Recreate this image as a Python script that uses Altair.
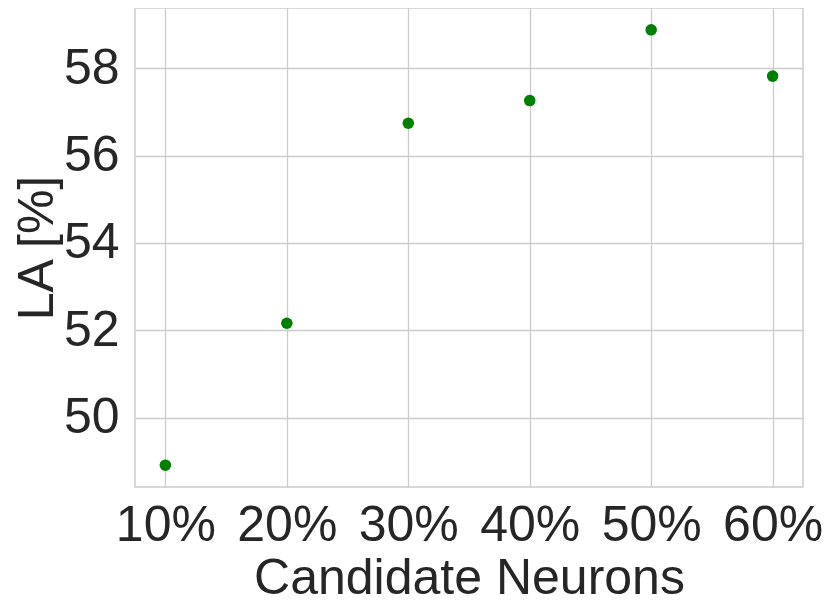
import altair as alt
import pandas as pd

candidates = [10, 20, 30, 40, 50, 60]
la_values = [48.91, 52.16, 56.74, 57.26, 58.88, 57.82]

x_ticks = [10, 20, 30, 40, 50, 60]
y_ticks = [50, 52, 54, 56, 58]

df = pd.DataFrame({"candidate": candidates, "la": la_values})

FONT = "Liberation Sans"
TEXT = "#262626"
GRID = "#cccccc"

chart = alt.Chart(df).mark_circle(size=133, color="#008000", opacity=1).encode(
    x=alt.X(
        "candidate:Q",
        scale=alt.Scale(domain=[7.5, 62.5], nice=False, zero=False),
        axis=alt.Axis(
            values=x_ticks,
            labelExpr="datum.value + '%'",
            title="Candidate Neurons",
            titlePadding=3,
            labelPadding=13,
            ticks=False,
            tickSize=0,
            domain=False,
            labelFlush=False,
        ),
    ),
    y=alt.Y(
        "la:Q",
        scale=alt.Scale(domain=[48.41, 59.38], nice=False, zero=False),
        axis=alt.Axis(
            values=y_ticks,
            title="LA [%]",
            titlePadding=1,
            labelPadding=16,
            ticks=False,
            tickSize=0,
            domain=False,
            labelFlush=False,
        ),
    ),
).properties(
    width=668,
    height=479,
    autosize="none",
    padding={"left": 127, "top": 0, "right": 20, "bottom": 117},
).configure_view(
    stroke=GRID,
    strokeWidth=1.5,
).configure_axis(
    grid=True,
    gridColor=GRID,
    gridWidth=1.3,
    labelFont=FONT,
    titleFont=FONT,
    labelFontSize=50,
    titleFontSize=50,
    labelColor=TEXT,
    titleColor=TEXT,
    titleFontWeight="normal",
)

chart.save("out.html", embed_options={"renderer": "svg", "actions": False})
